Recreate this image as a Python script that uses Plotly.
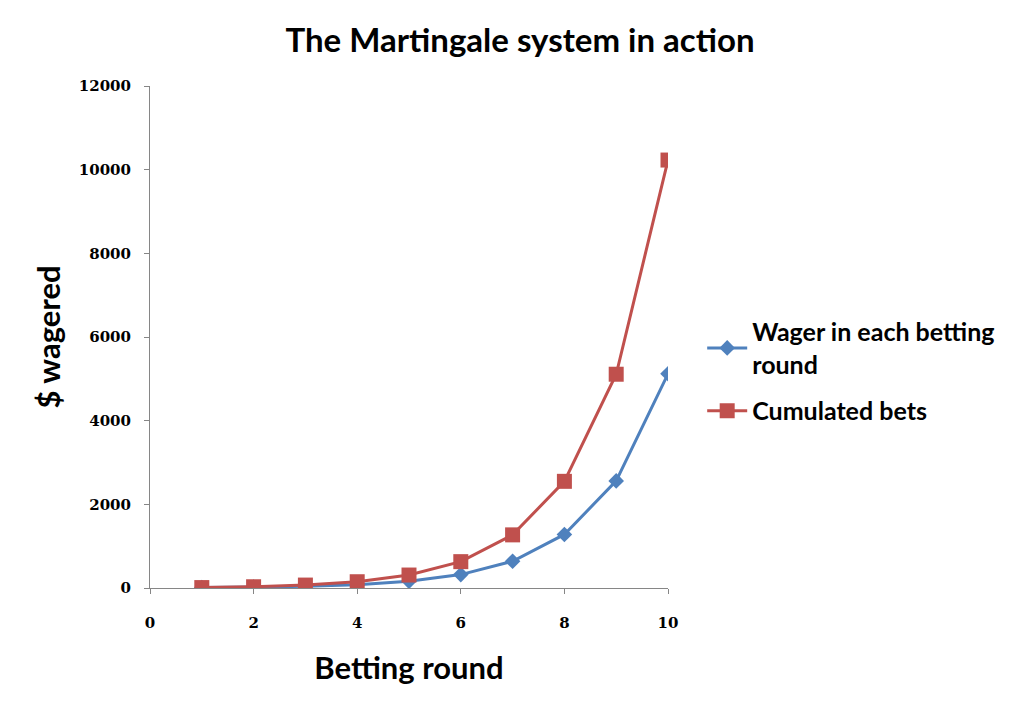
import plotly.graph_objects as go

# данные
rounds = [1, 2, 3, 4, 5, 6, 7, 8, 9, 10]
wager = [10, 20, 40, 80, 160, 320, 640, 1280, 2560, 5120]
cumulated = [10, 30, 70, 150, 310, 630, 1270, 2550, 5110, 10230]
x_ticks = [0, 2, 4, 6, 8, 10]
y_ticks = [0, 2000, 4000, 6000, 8000, 10000, 12000]

fig = go.Figure()
fig.add_trace(go.Scatter(
    x=rounds,
    y=wager,
    mode='lines+markers',
    name='Wager in each betting<br>round',
    legendgroup='a',
    line=dict(color='#4F81BD', width=3),
    marker=dict(symbol='diamond', size=12, color='#4F81BD')))
fig.add_trace(go.Scatter(
    x=rounds,
    y=cumulated,
    mode='lines+markers',
    name='Cumulated bets',
    legendgroup='b',
    line=dict(color='#C0504D', width=3),
    marker=dict(symbol='square', size=15, color='#C0504D')))

tick_font = dict(family='DejaVu Serif', size=15, color='black', weight='bold')
label_font = dict(family='Lato', size=31, color='black', weight='bold')
fig.update_layout(
    title=dict(
        text='The Martingale system in action',
        x=0.5, xanchor='center', y=0.955, yanchor='middle',
        font=dict(family='Lato', size=33, color='black', weight='bold')),
    width=1024, height=711,
    plot_bgcolor='white', paper_bgcolor='white',
    margin=dict(l=142, r=364, t=78, b=131),
    xaxis=dict(
        range=[0, 10], tickvals=x_ticks, ticktext=[str(v) for v in x_ticks],
        showgrid=False, zeroline=False,
        showline=True, linecolor='#868686', linewidth=1,
        ticks='outside', ticklen=5, tickcolor='#868686',
        ticklabelstandoff=16,
        tickfont=tick_font,
        title=dict(text='Betting round', standoff=26, font=label_font)),
    yaxis=dict(
        range=[0, 12000], tickvals=y_ticks, ticktext=[str(v) for v in y_ticks],
        showgrid=False, zeroline=False,
        showline=True, linecolor='#868686', linewidth=1,
        ticks='outside', ticklen=5, tickcolor='#868686',
        ticklabelstandoff=10,
        tickfont=tick_font,
        title=dict(text='$ wagered', standoff=8, font=label_font)),
    legend=dict(
        x=1.066, y=0.556, xanchor='left', yanchor='top',
        font=dict(family='Lato', size=25, color='black', weight='bold'),
        traceorder='grouped', tracegroupgap=11, itemwidth=40),
    showlegend=True)

fig.write_html("out.html")
